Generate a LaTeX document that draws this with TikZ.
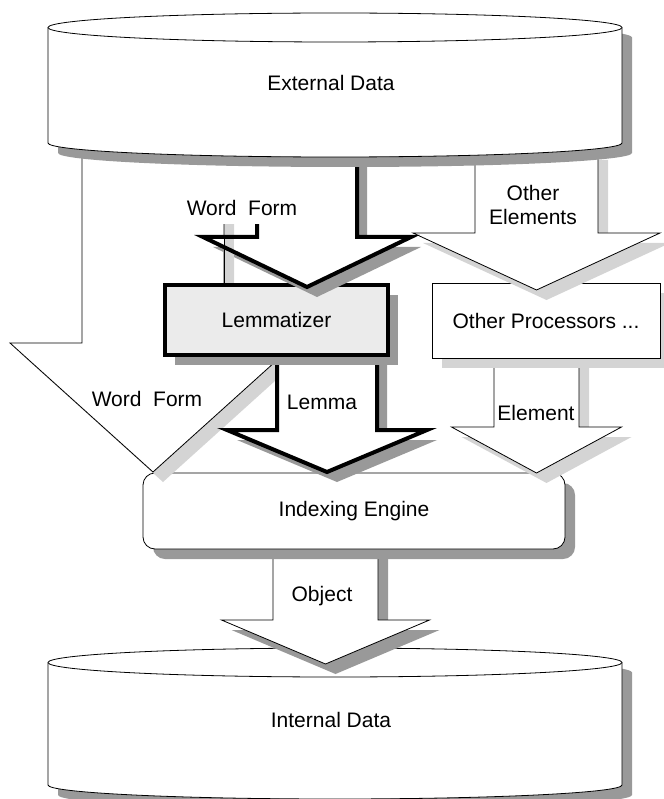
\documentclass[tikz,border=0pt]{standalone}
\usepackage{fontspec}
\setmainfont{Liberation Sans}
\usetikzlibrary{shadows}
\tikzset{
  darkshade/.style={fill=black!40},
  lightshade/.style={fill=black!17},
  datastore/.style={draw, fill=white, line width=0.8pt},
  hollowarrow/.style={draw, fill=white, line width=0.8pt, line join=miter},
  heavyarrow/.style={draw, fill=white, line width=4pt, line join=miter},
  procbox/.style={draw, line width=4pt, fill=black!8, minimum width=223pt, minimum height=70pt,
    drop shadow={shadow xshift=10pt, shadow yshift=-10pt, fill=black!40, opacity=1}},
  otherbox/.style={draw, line width=0.8pt, fill=white, minimum width=228pt, minimum height=75pt,
    drop shadow={shadow xshift=10pt, shadow yshift=-10pt, fill=black!17, opacity=1}},
  enginebox/.style={draw, line width=0.8pt, fill=white, rounded corners=12pt, minimum width=422pt, minimum height=76pt,
    drop shadow={shadow xshift=10pt, shadow yshift=-10pt, fill=black!40, opacity=1}},
  flowlabel/.style={inner sep=1pt}
}
\newcommand{\arrowpath}[6]{({#1-#5},#2) -- ({#1-#5},#3) -- ({#1-#6},#3) -- (#1,#4) -- ({#1+#6},#3) -- ({#1+#5},#3) -- ({#1+#5},#2) -- cycle}
\newcommand{\datastore}[2]{%
  \fill[darkshade, shift={(10,10)}] (48,#1) -- (48,#2) arc[start angle=180, end angle=360, x radius=287pt, y radius=14pt]
    -- (622,#1) arc[start angle=0, end angle=180, x radius=287pt, y radius=14.5pt] -- cycle;
  \path[datastore] (48,#1) -- (48,#2) arc[start angle=180, end angle=360, x radius=287pt, y radius=14pt]
    -- (622,#1) arc[start angle=0, end angle=180, x radius=287pt, y radius=14.5pt] -- cycle;
  \draw[datastore] (48,#1) arc[start angle=180, end angle=360, x radius=287pt, y radius=14.5pt];
}

\begin{document}
\begin{tikzpicture}[x=1pt, y=-1pt, every node/.style={font=\fontsize{21}{24}\selectfont}]
  \useasboundingbox (0,0) rectangle (663,799);

  \datastore{662.5}{785}
  \node (intdata) at (331,720) {Internal Data};

  \fill[darkshade, shift={(10,10)}] \arrowpath{325.5}{540}{620}{664}{52.5}{104};
  \path[hollowarrow] \arrowpath{325.5}{540}{620}{664}{52.5}{104};
  \node[flowlabel] (object) at (322,596) {Object};

  \node[enginebox] (engine) at (354,511) {Indexing Engine};

  \fill[lightshade, shift={(10,10)}] \arrowpath{153}{150}{343}{472}{71}{143};
  \path[hollowarrow] \arrowpath{153}{150}{343}{472}{71}{143};
  \node[flowlabel] (wordform2) at (147,399) {Word\ \ Form};

  \fill[darkshade, shift={(10,10)}] \arrowpath{327}{350}{430}{472}{50}{100};
  \path[heavyarrow] \arrowpath{327}{350}{430}{472}{50}{100};
  \node[flowlabel] (lemma) at (322,402) {Lemma};

  \fill[lightshade, shift={(10,10)}] \arrowpath{536.5}{350}{427}{473}{42.5}{85};
  \path[hollowarrow] \arrowpath{536.5}{350}{427}{473}{42.5}{85};
  \node[flowlabel] (element) at (536,413) {Element};

  \node[procbox] (lemmatizer) at (276.5,320) {Lemmatizer};
  \node[otherbox] (others) at (546,320.5) {Other Processors ...};

  \fill[lightshade, shift={(10,10)}] \arrowpath{536.5}{150}{233}{290}{61.5}{123.5};
  \path[hollowarrow] \arrowpath{536.5}{150}{233}{290}{61.5}{123.5};
  \node[flowlabel, align=center] (otherel) at (533,205) {Other\\Elements};

  \fill[darkshade, shift={(10,10)}] \arrowpath{307}{150}{237}{287}{50}{104};
  \path[fill=white] \arrowpath{307}{150}{237}{287}{50}{104};
  \fill[lightshade] (224,239) rectangle (234,283);
  \draw[line width=0.8pt] (224,239) -- (224,283);
  \path[heavyarrow, fill=none] \arrowpath{307}{150}{237}{287}{50}{104};
  \node[fill=white, anchor=base, inner xsep=2pt, inner ysep=0pt, text height=55.5pt, text depth=8.5pt] (wordform1) at (242,215.5) {Word\ \ Form};

  \datastore{27.5}{143}
  \node (extdata) at (331,83) {External Data};
\end{tikzpicture}
\end{document}
